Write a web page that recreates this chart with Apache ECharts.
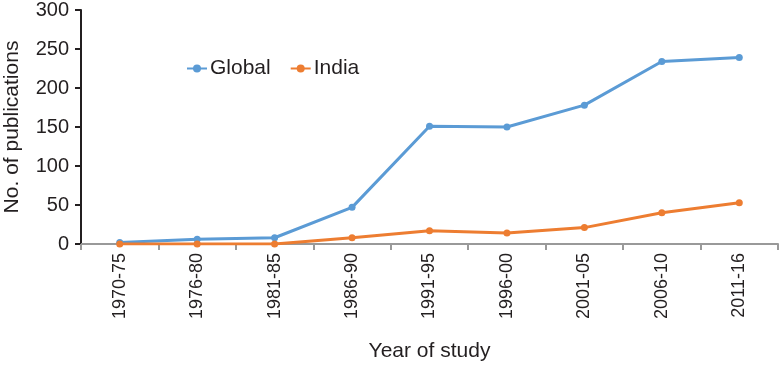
<!DOCTYPE html>
<html><head><meta charset="utf-8">
<script src="https://cdn.jsdelivr.net/npm/echarts@6/dist/echarts.min.js"></script>
<style>html,body{margin:0;padding:0;background:#fff}#c{width:779px;height:365px}</style>
</head><body><div id="c"></div>
<script>
const categories = ['1970-75','1976-80','1981-85','1986-90','1991-95','1996-00','2001-05','2006-10','2011-16'];
const globalValues = [2, 6, 8, 47, 151, 150, 178, 234, 239];
const indiaValues = [0, 0, 0, 8, 17, 14, 21, 40, 53];
const yTicks = [0, 50, 100, 150, 200, 250, 300];

const txt = '#231f20';
const font = 'Liberation Sans, Arial, sans-serif';
const chart = echarts.init(document.getElementById('c'));
chart.setOption({
  animation: false,
  textStyle: {fontFamily: font},
  grid: {left: 81, top: 10, right: 1, bottom: 121, containLabel: false, outerBoundsMode: 'none'},
  legend: {
    left: 181, top: 53, itemGap: 19, itemWidth: 20, itemHeight: 10,
    textStyle: {fontSize: 21, color: txt, fontFamily: font, padding: [0,0,0,-2]},
    data: ['Global', 'India']
  },
  xAxis: {
    type: 'category', data: categories, boundaryGap: true,
    name: 'Year of study', nameLocation: 'middle', nameGap: 97,
    nameTextStyle: {fontSize: 21, color: txt, fontFamily: font},
    axisLine: {lineStyle: {color: '#999', width: 2}},
    axisTick: {show: true, length: 6, lineStyle: {color: '#999', width: 2}},
    axisLabel: {rotate: 90, fontSize: 18, color: txt, margin: 9, fontFamily: font}
  },
  yAxis: {
    type: 'value', min: 0, max: 300, interval: 50,
    name: 'No. of publications', nameLocation: 'middle', nameGap: 58,
    nameTextStyle: {fontSize: 21, color: txt, fontFamily: font},
    axisLine: {show: true, lineStyle: {color: '#231f20', width: 2}},
    axisTick: {show: true, length: 6, lineStyle: {color: '#231f20', width: 2}},
    splitLine: {show: false},
    axisLabel: {fontSize: 20, color: txt, margin: 12, fontFamily: font,
      formatter: v => yTicks.includes(v) ? String(v) : ''}
  },
  series: [
    {name: 'Global', type: 'line', data: globalValues, symbol: 'circle', symbolSize: 7,
     itemStyle: {color: '#5b9bd5'}, lineStyle: {width: 3, color: '#5b9bd5'}},
    {name: 'India', type: 'line', data: indiaValues, symbol: 'circle', symbolSize: 7,
     itemStyle: {color: '#ed7d31'}, lineStyle: {width: 3, color: '#ed7d31'}}
  ]
});
</script></body></html>
